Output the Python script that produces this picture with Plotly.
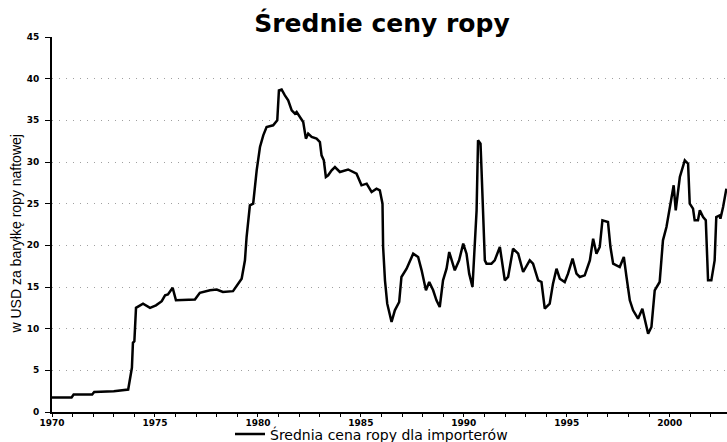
import plotly.graph_objects as go

# Decimal years and average price (USD/bbl)
lata = [
    1970.00, 1970.95, 1971.05, 1971.95, 1972.05, 1973.00, 1973.70, 1973.83, 1973.88, 1973.93,
    1974.00, 1974.08, 1974.42, 1974.76, 1975.05, 1975.33, 1975.49, 1975.63, 1975.86, 1976.02,
    1976.94, 1977.18, 1977.67, 1978.00, 1978.30, 1978.79, 1979.03, 1979.21, 1979.37, 1979.45,
    1979.61, 1979.77, 1979.94, 1980.10, 1980.26, 1980.42, 1980.74, 1980.94, 1981.02, 1981.15,
    1981.31, 1981.47, 1981.64, 1981.80, 1981.88, 1982.04, 1982.20, 1982.33, 1982.44, 1982.61,
    1982.85, 1983.01, 1983.09, 1983.20, 1983.30, 1983.41, 1983.58, 1983.74, 1983.98, 1984.38,
    1984.79, 1985.03, 1985.28, 1985.52, 1985.76, 1985.92, 1986.05, 1986.08, 1986.17, 1986.28,
    1986.49, 1986.65, 1986.86, 1986.97, 1987.22, 1987.54, 1987.78, 1987.95, 1988.16, 1988.32,
    1988.51, 1988.67, 1988.83, 1988.99, 1989.16, 1989.29, 1989.40, 1989.56, 1989.77, 1989.97,
    1990.13, 1990.26, 1990.42, 1990.53, 1990.62, 1990.69, 1990.81, 1990.86, 1990.94, 1991.02,
    1991.10, 1991.34, 1991.50, 1991.75, 1991.99, 1992.15, 1992.39, 1992.64, 1992.88, 1993.20,
    1993.36, 1993.61, 1993.77, 1993.93, 1994.17, 1994.33, 1994.50, 1994.66, 1994.90, 1995.06,
    1995.28, 1995.47, 1995.63, 1995.87, 1996.12, 1996.28, 1996.44, 1996.60, 1996.73, 1997.00,
    1997.12, 1997.25, 1997.57, 1997.77, 1997.90, 1998.06, 1998.22, 1998.46, 1998.67, 1998.79,
    1998.95, 1999.11, 1999.27, 1999.51, 1999.67, 1999.84, 2000.08, 2000.19, 2000.29, 2000.49,
    2000.73, 2000.89, 2000.97, 2001.13, 2001.21, 2001.37, 2001.46, 2001.62, 2001.75, 2001.86,
    2002.02, 2002.18, 2002.26, 2002.43, 2002.46, 2002.59, 2002.75,
]
ceny = [
    1.75, 1.75, 2.10, 2.10, 2.40, 2.50, 2.70, 5.00, 5.30, 8.30,
    8.50, 12.50, 13.00, 12.50, 12.80, 13.30, 14.00, 14.10, 14.90, 13.40,
    13.50, 14.30, 14.60, 14.70, 14.40, 14.50, 15.30, 16.00, 18.20, 21.00,
    24.80, 25.00, 29.00, 31.80, 33.20, 34.20, 34.40, 35.00, 38.60, 38.70,
    38.00, 37.40, 36.20, 35.80, 36.00, 35.40, 34.80, 32.80, 33.40, 33.00,
    32.80, 32.40, 30.80, 30.20, 28.20, 28.40, 29.00, 29.40, 28.80, 29.10,
    28.60, 27.20, 27.40, 26.40, 26.80, 26.60, 25.00, 19.80, 15.80, 13.00,
    10.80, 12.20, 13.20, 16.20, 17.20, 19.00, 18.60, 17.00, 14.60, 15.60,
    14.60, 13.40, 12.60, 15.80, 17.20, 19.20, 18.20, 17.00, 18.20, 20.20,
    19.00, 16.60, 15.00, 19.80, 24.20, 32.60, 32.20, 29.00, 24.20, 18.20,
    17.80, 17.80, 18.20, 19.80, 15.80, 16.20, 19.60, 19.00, 16.80, 18.20,
    17.80, 15.80, 15.60, 12.40, 13.00, 15.40, 17.20, 16.00, 15.60, 16.60,
    18.40, 16.60, 16.20, 16.40, 18.20, 20.80, 19.00, 19.80, 23.00, 22.80,
    19.80, 17.80, 17.40, 18.60, 16.20, 13.40, 12.20, 11.20, 12.40, 11.00,
    9.40, 10.20, 14.60, 15.60, 20.60, 22.20, 25.40, 27.20, 24.20, 28.20,
    30.20, 29.80, 25.00, 24.40, 23.00, 23.00, 24.20, 23.40, 23.00, 15.80,
    15.80, 18.20, 23.40, 23.60, 23.20, 24.60, 26.80,
]

tick_years = list(range(1970, 2003))
tick_labels = [str(y) if y % 5 == 0 else "" for y in tick_years]
y_ticks = [0, 5, 10, 15, 20, 25, 30, 35, 40, 45]

fig = go.Figure()
fig.add_trace(go.Scatter(
    x=lata, y=ceny, mode="lines",
    name="Średnia cena ropy dla importerów",
    line=dict(color="black", width=2.5),
))

fig.update_layout(
    width=727, height=442,
    margin=dict(l=52, r=0, t=37, b=30, autoexpand=False),
    paper_bgcolor="white", plot_bgcolor="white",
    font=dict(family="Liberation Sans, Arial, sans-serif", color="black"),
    title=dict(
        text="Średnie ceny ropy",
        font=dict(family="DejaVu Sans", size=25, weight="bold", color="black"),
        xref="container", x=382 / 727, xanchor="center",
        yref="container", y=1 - 23 / 442, yanchor="middle",
    ),
    showlegend=True,
    legend=dict(
        orientation="h",
        x=(230 - 52) / 675, xanchor="left",
        y=-(434.5 - 412) / 375, yanchor="middle",
        font=dict(family="DejaVu Sans", size=14, color="black"),
        bgcolor="rgba(0,0,0,0)",
    ),
    xaxis=dict(
        range=[1970, 2002.78],
        tickmode="array", tickvals=tick_years, ticktext=tick_labels,
        ticks="outside", ticklen=3, tickwidth=1, tickcolor="black",
        tickfont=dict(family="DejaVu Sans", size=9, weight="bold"),
        ticklabelstandoff=-2,
        showline=True, linecolor="black", linewidth=1.5,
        showgrid=False, zeroline=False,
    ),
    yaxis=dict(
        range=[0, 45],
        tickmode="array", tickvals=y_ticks,
        ticks="outside", ticklen=5, tickwidth=1, tickcolor="black",
        tickfont=dict(family="DejaVu Sans", size=9, weight="bold"),
        ticklabelstandoff=4,
        showline=True, linecolor="black", linewidth=2,
        showgrid=True, gridcolor="#a0a0a0", gridwidth=1, griddash="1px,6px",
        zeroline=False,
    ),
    annotations=[dict(
        text="w USD za baryłkę ropy naftowej",
        xref="paper", yref="paper",
        x=(16 - 52) / 675, y=(412 - 234.5) / 375,
        xanchor="center", yanchor="middle",
        textangle=-90, showarrow=False,
        font=dict(family="Liberation Sans", size=14, color="black"),
    )],
)

fig.write_html(
    "out.html",
    config={"displayModeBar": False},
    post_script="document.body.style.margin='0';document.body.style.overflow='hidden';",
)
